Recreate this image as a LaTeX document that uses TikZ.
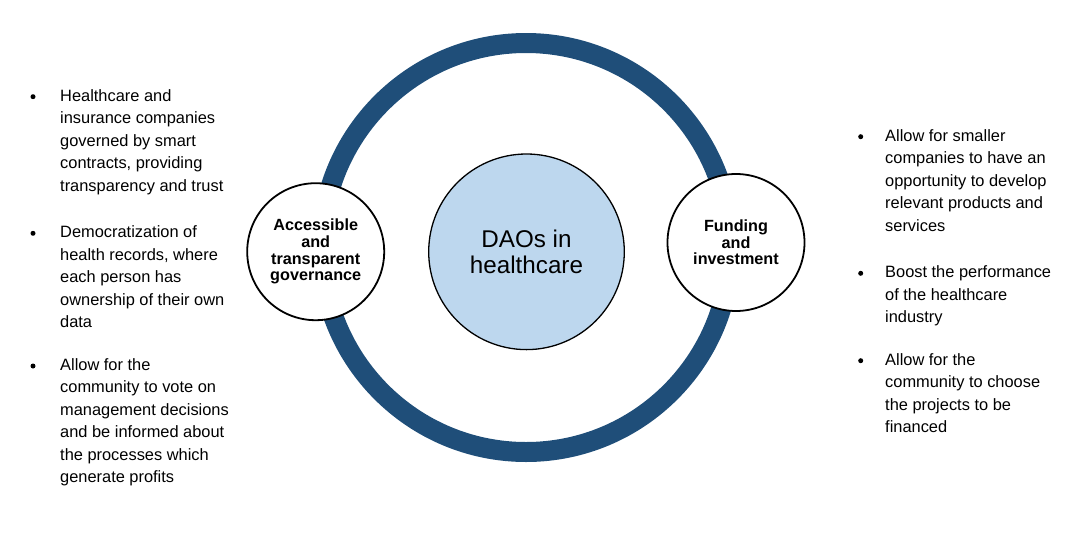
\documentclass[tikz,border=0pt]{standalone}
\usepackage{fontspec}
\setmainfont{Liberation Sans}
\usepackage{tikz}

\definecolor{ringblue}{HTML}{1F4E79}
\definecolor{hubfill}{HTML}{BDD7EE}

\begin{document}
\begin{tikzpicture}
    [x=1pt, y=-1pt,
     Hub/.style={circle, draw=black, line width=1.3pt, fill=hubfill, inner sep=0pt, minimum size=195.6pt, align=center,
       font=\fontsize{24.2}{26}\selectfont},
     Topic/.style={circle, draw=black, line width=1.8pt, fill=white, inner sep=0pt, minimum size=137pt, align=center,
       font=\bfseries\fontsize{16.2}{16.6}\selectfont},
     Item/.style={anchor=base west, inner sep=0pt, align=left, font=\fontsize{16.4}{22.5}\selectfont},
     Dot/.style={circle, fill=black, inner sep=0pt, minimum size=5pt}]
	\useasboundingbox (0,0) rectangle (1084,536);
	% outer ring
	\draw[ringblue, line width=20pt] (526,247.5) circle[radius=204.5];
	\node[Hub] (Hub) at (526.5, 251.8) {DAOs in\\healthcare};
	\node[Topic] (Gov) at (315.7, 251.7) {Accessible\\and\\transparent\\governance};
	\node[Topic] (Fund) at (736, 242.5) {Funding\\and\\investment};
	% left list (items placed at the baseline of their last line)
	\node[Dot] (Gov.dot.1) at (33, 96.7) {};
	\node[Dot] (Gov.dot.2) at (33, 233.3) {};
	\node[Dot] (Gov.dot.3) at (33, 366) {};
	\node[Item] (Gov.item.1) at (60, 191) {Healthcare and\\insurance companies\\governed by smart\\contracts, providing\\transparency and trust};
	\node[Item] (Gov.item.2) at (60, 327.6) {Democratization of\\health records, where\\each person has\\ownership of their own\\data};
	\node[Item] (Gov.item.3) at (60, 482.8) {Allow for the\\community to vote on\\management decisions\\and be informed about\\the processes which\\generate profits};
	% right list
	\node[Dot] (Fund.dot.1) at (860.7, 136.7) {};
	\node[Dot] (Fund.dot.2) at (860.7, 273.3) {};
	\node[Dot] (Fund.dot.3) at (860.7, 360.7) {};
	\node[Item] (Fund.item.1) at (885, 231) {Allow for smaller\\companies to have an\\opportunity to develop\\relevant products and\\services};
	\node[Item] (Fund.item.2) at (885, 322.6) {Boost the performance\\of the healthcare\\industry};
	\node[Item] (Fund.item.3) at (885, 432.5) {Allow for the\\community to choose\\the projects to be\\financed};
\end{tikzpicture}
\end{document}
